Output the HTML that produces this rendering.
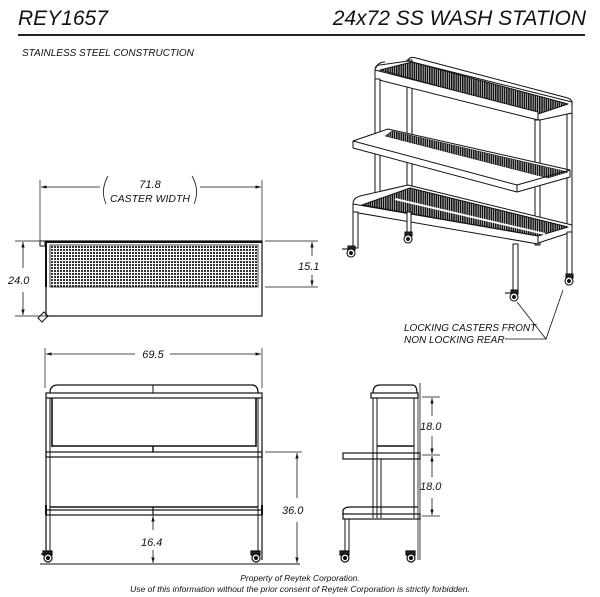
<!DOCTYPE html>
<html><head><meta charset="utf-8"><style>
html,body{margin:0;padding:0;background:#fff}
svg{display:block}
text{font-family:"Liberation Sans",sans-serif;font-style:italic;fill:#111}
</style></head><body>
<svg width="600" height="597" viewBox="0 0 600 597" xmlns="http://www.w3.org/2000/svg">
<defs>
<pattern id="dots" width="3" height="3" patternUnits="userSpaceOnUse"><rect width="3" height="3" fill="#fff"/><rect width="2" height="2" fill="#333"/></pattern>
<pattern id="vl" width="2.2" height="10" patternUnits="userSpaceOnUse"><rect width="2.2" height="10" fill="#fff"/><rect width="1.6" height="10" fill="#111"/></pattern>
<marker id="a" viewBox="0 0 10 10" refX="10" refY="5" markerWidth="7" markerHeight="7" orient="auto-start-reverse"><path d="M0,2 L10,5 L0,8 z" fill="#111"/></marker>
</defs>
<text x="18" y="25" font-size="21">REY1657</text>
<text x="586" y="25" font-size="21" text-anchor="end">24x72 SS WASH STATION</text>
<line x1="18" y1="35" x2="585" y2="35" stroke="#222" stroke-width="2"/>
<text x="22" y="56" font-size="10">STAINLESS STEEL CONSTRUCTION</text>

<g stroke="#111" fill="none" stroke-width="1">
<line x1="40" y1="180" x2="40" y2="242" stroke-width="0.7"/>
<line x1="262" y1="180" x2="262" y2="242" stroke-width="0.7"/>
<line x1="41" y1="187" x2="100" y2="187" marker-start="url(#a)" stroke-width="0.8"/>
<line x1="200" y1="187" x2="261" y2="187" marker-end="url(#a)" stroke-width="0.8"/>
<path d="M108,176 Q100,190 106,204" stroke-width="0.8"/>
<path d="M192,176 Q200,190 194,204" stroke-width="0.8"/>
<rect x="46" y="241" width="216" height="75" stroke-width="1.2"/>
<line x1="46" y1="242" x2="262" y2="242" stroke-width="2"/>
<line x1="46" y1="241" x2="46" y2="287" stroke-width="2"/>
<rect x="50" y="245" width="208" height="42" fill="url(#dots)" stroke-width="0.8"/>
<rect x="40" y="241" width="5" height="5" stroke-width="1"/>
<path d="M38,318 l6,-6 l4,4 l-6,6 z" stroke-width="1"/>
<line x1="15" y1="241" x2="45" y2="241" stroke-width="0.7"/>
<line x1="15" y1="316" x2="45" y2="316" stroke-width="0.7"/>
<line x1="23" y1="242" x2="23" y2="268" marker-start="url(#a)" stroke-width="0.8"/>
<line x1="23" y1="292" x2="23" y2="315" marker-end="url(#a)" stroke-width="0.8"/>
<line x1="265" y1="241" x2="318" y2="241" stroke-width="0.7"/>
<line x1="265" y1="287" x2="318" y2="287" stroke-width="0.7"/>
<line x1="312" y1="242" x2="312" y2="256" marker-start="url(#a)" stroke-width="0.8"/>
<line x1="312" y1="275" x2="312" y2="286" marker-end="url(#a)" stroke-width="0.8"/>

<line x1="45" y1="348" x2="45" y2="388" stroke-width="0.7"/>
<line x1="262" y1="348" x2="262" y2="388" stroke-width="0.7"/>
<line x1="46" y1="354" x2="135" y2="354" marker-start="url(#a)" stroke-width="0.8"/>
<line x1="170" y1="354" x2="261" y2="354" marker-end="url(#a)" stroke-width="0.8"/>
<path d="M50,393 Q50,385 58,385 L252,385 Q258,385 258,393" stroke-width="1.3"/>
<line x1="153" y1="385" x2="153" y2="393"/>
<rect x="46" y="393" width="216" height="5" stroke-width="1.2"/>
<line x1="46" y1="398" x2="46" y2="560" stroke-width="1.2"/>
<line x1="50" y1="398" x2="50" y2="558" stroke-width="1"/>
<line x1="258" y1="398" x2="258" y2="558" stroke-width="1"/>
<line x1="262" y1="398" x2="262" y2="560" stroke-width="1.2"/>
<line x1="52" y1="398" x2="52" y2="447" stroke-width="1.6"/>
<line x1="256" y1="398" x2="256" y2="447" stroke-width="1.6"/>
<line x1="52" y1="446" x2="256" y2="446" stroke-width="1.6"/>
<line x1="153" y1="446" x2="153" y2="452" stroke-width="1.5"/>
<rect x="46" y="452" width="216" height="5" stroke-width="1.2"/>
<line x1="50" y1="507" x2="258" y2="507" stroke-width="1.6"/>
<rect x="46" y="510" width="216" height="5" stroke-width="1.2"/>
<line x1="153" y1="507" x2="153" y2="515" stroke-width="1.2"/>
<line x1="46" y1="505" x2="46" y2="515" stroke-width="2"/>
<line x1="262" y1="505" x2="262" y2="515" stroke-width="2"/>
<line x1="40" y1="564" x2="300" y2="564" stroke-width="1"/>
<line x1="265" y1="452" x2="302" y2="452" stroke-width="0.7"/>
<line x1="297" y1="453" x2="297" y2="498" marker-start="url(#a)" stroke-width="0.8"/>
<line x1="297" y1="522" x2="297" y2="563" marker-end="url(#a)" stroke-width="0.8"/>
<line x1="153" y1="516" x2="153" y2="530" marker-start="url(#a)" stroke-width="0.8"/>
<line x1="153" y1="550" x2="153" y2="563" marker-end="url(#a)" stroke-width="0.8"/>

<path d="M373,393 Q373,385 380,385 L412,385 Q417,385 417,393" stroke-width="1.3"/>
<rect x="371" y="393" width="47" height="5" stroke-width="1.2"/>
<line x1="420" y1="383" x2="420" y2="560" stroke-width="0.8"/>
<line x1="418" y1="398" x2="418" y2="560" stroke-width="0.8"/>
<line x1="373" y1="398" x2="373" y2="518" stroke-width="1"/>
<line x1="377" y1="398" x2="377" y2="518" stroke-width="1"/>
<line x1="414" y1="398" x2="414" y2="518" stroke-width="1"/>
<line x1="377" y1="446" x2="414" y2="446" stroke-width="1.5"/>
<rect x="343" y="453" width="77" height="6" stroke-width="1.2"/>
<line x1="381" y1="459" x2="381" y2="518" stroke-width="1"/>
<path d="M343,515 L343,510 Q345,507 350,507 L418,507" stroke-width="1.3"/>
<rect x="343" y="514" width="77" height="5" stroke-width="1.2"/>
<line x1="345" y1="519" x2="345" y2="555"/>
<line x1="349" y1="519" x2="349" y2="555"/>
<line x1="422" y1="397" x2="440" y2="397" stroke-width="0.7"/>
<line x1="422" y1="455" x2="440" y2="455" stroke-width="0.7"/>
<line x1="422" y1="516" x2="440" y2="516" stroke-width="0.7"/>
<line x1="432" y1="398" x2="432" y2="416" marker-start="url(#a)" stroke-width="0.8"/>
<line x1="432" y1="436" x2="432" y2="454" marker-end="url(#a)" stroke-width="0.8"/>
<line x1="432" y1="456" x2="432" y2="477" marker-start="url(#a)" stroke-width="0.8"/>
<line x1="432" y1="498" x2="432" y2="515" marker-end="url(#a)" stroke-width="0.8"/>
</g>
<g fill="#fff" stroke="#111" stroke-width="1.2">
<g transform="translate(48,557)"><path d="M-5,-6 h9 v4 h-9z" fill="#222"/><circle cx="0" cy="1" r="4"/><circle cx="0" cy="1" r="1.5" fill="#111"/><path d="M-7,-3 l4,0" /></g>
<g transform="translate(256,557)"><path d="M-5,-6 h9 v4 h-9z" fill="#222"/><circle cx="0" cy="1" r="4"/><circle cx="0" cy="1" r="1.5" fill="#111"/></g>
<g transform="translate(345,557)"><path d="M-5,-6 h9 v4 h-9z" fill="#222"/><circle cx="0" cy="1" r="4"/><circle cx="0" cy="1" r="1.5" fill="#111"/></g>
<g transform="translate(411,557)"><path d="M-5,-6 h9 v4 h-9z" fill="#222"/><circle cx="0" cy="1" r="4"/><circle cx="0" cy="1" r="1.5" fill="#111"/></g>
</g>
<g font-size="11">
<text x="150" y="188" text-anchor="middle">71.8</text>
<text x="150" y="202" text-anchor="middle" font-size="10.5">CASTER WIDTH</text>
<text x="8" y="284">24.0</text>
<text x="298" y="270">15.1</text>
<text x="153" y="358" text-anchor="middle">69.5</text>
<text x="282" y="514">36.0</text>
<text x="141" y="546">16.4</text>
<text x="420" y="430">18.0</text>
<text x="420" y="490">18.0</text>
</g>

<g stroke="#111" stroke-width="1" fill="#fff" stroke-linejoin="round">
<rect x="407" y="60" width="5" height="130"/>
<rect x="567" y="104" width="5" height="172"/>
<path d="M375,70 Q375,65 380,65 L408,61 L572,102 L572,113 L540,120 L375,78 Z"/>
<path d="M380,70 L412,62 L568,104 L538,114 Z" fill="url(#vl)"/>
<path d="M375,70 L538,112 L538,120 L375,79 Z"/>
<path d="M376,68 Q378,62 385,62 M408,60 Q410,56 416,58 L568,98 Q573,100 572,105" fill="none"/>
<rect x="375" y="79" width="5" height="125"/>
<rect x="535" y="120" width="5" height="125"/>
<path d="M353,141 L388,129 L570,170 L570,177 L517,192 L353,148 Z"/>
<path d="M392,131 L568,172 L548,178 L385,136 Z" fill="url(#vl)" stroke-width="0.5"/>
<path d="M353,141 L517,185 L570,170" fill="none"/>
<line x1="517" y1="185" x2="517" y2="192"/>
<path d="M353,204 Q353,198 360,196 L408,185 L572,225 L572,232 L538,243 L353,212 Z"/>
<path d="M362,205 L410,188 L568,227 L538,236 Z" fill="url(#vl)"/>
<path d="M353,204 L538,236 L538,244 L353,212 Z"/>
<line x1="395" y1="199" x2="545" y2="234" stroke-width="2" stroke="#fff"/>
<rect x="353" y="212" width="5" height="36"/>
<rect x="407" y="212" width="4" height="22"/>
<rect x="513" y="244" width="5" height="47"/>
<rect x="567" y="232" width="5" height="42"/>
</g>
<g fill="#fff" stroke="#111" stroke-width="1.1">
<g transform="translate(351,252)"><path d="M-3,-6 h7 v4 h-7z" fill="#222"/><circle cx="0" cy="1" r="4"/><circle cx="0" cy="1" r="1.4" fill="#111"/><path d="M-9,-3 l6,0"/></g>
<g transform="translate(408,238)"><path d="M-3,-6 h7 v4 h-7z" fill="#222"/><circle cx="0" cy="1" r="4"/><circle cx="0" cy="1" r="1.4" fill="#111"/></g>
<g transform="translate(514,296)"><path d="M-3,-6 h7 v4 h-7z" fill="#222"/><circle cx="0" cy="1" r="4"/><circle cx="0" cy="1" r="1.4" fill="#111"/><path d="M-9,-3 l6,0"/></g>
<g transform="translate(569,280)"><path d="M-3,-6 h7 v4 h-7z" fill="#222"/><circle cx="0" cy="1" r="4"/><circle cx="0" cy="1" r="1.4" fill="#111"/></g>
</g>
<g stroke="#111" stroke-width="0.8" fill="none">
<polyline points="517,302 546,339 563,290"/>
<line x1="505" y1="339" x2="546" y2="339"/>
</g>
<text x="404" y="331" font-size="10">LOCKING CASTERS FRONT</text>
<text x="404" y="343" font-size="10">NON LOCKING REAR</text>

<text x="300" y="581" font-size="8.5" text-anchor="middle">Property of Reytek Corporation.</text>
<text x="300" y="592" font-size="8.5" text-anchor="middle">Use of this information without the prior consent of Reytek Corporation is strictly forbidden.</text>
</svg>
</body></html>
